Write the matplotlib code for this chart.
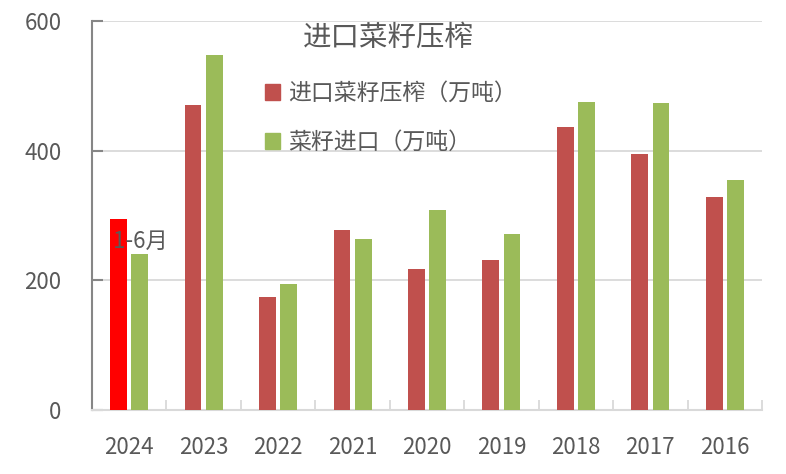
import numpy as np
import matplotlib
matplotlib.use("Agg")
import matplotlib.pyplot as plt
from matplotlib.patches import Patch

plt.rcParams['font.family'] = ['Noto Sans CJK SC', 'DejaVu Sans']

years = ["2024", "2023", "2022", "2021", "2020", "2019", "2018", "2017", "2016"]
crush = [295, 471, 174, 277, 218, 231, 437, 395, 329]      # 进口菜籽压榨（万吨）
imports = [241, 548, 195, 263, 308, 272, 475, 474, 355]    # 菜籽进口（万吨）
title = "进口菜籽压榨"
crush_label = "进口菜籽压榨（万吨）"
import_label = "菜籽进口（万吨）"
note = "1-6月"

RED = "#C0504D"
GREEN = "#9BBB59"
TXT = "#595959"

fig = plt.figure(figsize=(7.86, 4.74), dpi=100)
ax = fig.add_axes([92 / 786, 64 / 474, 670 / 786, 389 / 474])

x = np.arange(len(years))
w = 0.225
off = 0.142
red_cols = ["#FF0000"] + [RED] * (len(years) - 1)
ax.bar(x - off, crush, w, color=red_cols, zorder=3)
ax.bar(x + off, imports, w, color=GREEN, zorder=3)

ax.set_xlim(-0.5, len(years) - 0.5)
ax.set_ylim(0, 600)
ax.set_yticks([0, 200, 400, 600])
ax.yaxis.grid(True, color="#D9D9D9", linewidth=1.3, zorder=0)
ax.set_axisbelow(True)

ax.set_xticks(x)
ax.set_xticklabels(years)
ax.set_xticks(np.arange(-0.5, len(years)), minor=True)
ax.tick_params(axis="x", which="major", length=0, pad=19, labelsize=16, labelcolor=TXT)
ax.tick_params(axis="x", which="minor", direction="in", length=7, width=1.3, color="#D9D9D9")
ax.tick_params(axis="y", direction="in", length=8, width=1.5, color="#868686",
               pad=22, labelsize=16, labelcolor=TXT)

for s in ["top", "right"]:
    ax.spines[s].set_visible(False)
ax.spines["left"].set_color("#868686")
ax.spines["left"].set_linewidth(1.5)
ax.spines["bottom"].set_color("#D9D9D9")
ax.spines["bottom"].set_linewidth(1.5)

fig.text(388 / 786, 1 - 38 / 474, title, ha="center", va="center", fontsize=20.5, color=TXT)
ax.text(0 - off - w / 2 + 0.03, 260, note, ha="left", va="center", fontsize=16, color=TXT, zorder=4)

handles = [Patch(color=RED, label=crush_label), Patch(color=GREEN, label=import_label)]
fig.legend(handles=handles, loc="upper left", bbox_to_anchor=(256 / 786, 1 - 73 / 474),
           borderaxespad=0, borderpad=0.4,
           frameon=False, fontsize=16.5, labelcolor=TXT, handlelength=0.66, handleheight=0.66,
           handletextpad=0.36, labelspacing=1.12)

fig.savefig("out.png", dpi=100)
